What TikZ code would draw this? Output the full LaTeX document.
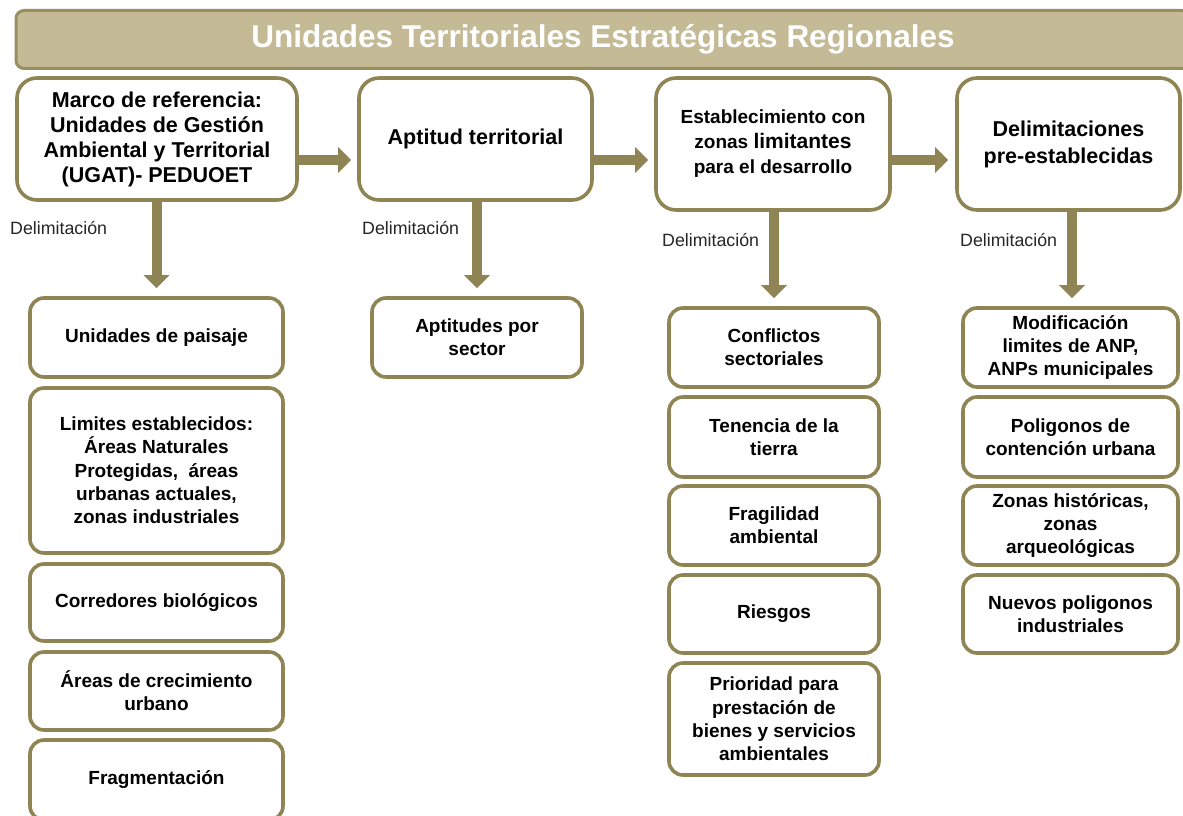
\documentclass[tikz,border=0pt]{standalone}
\usepackage{fontspec}
\setmainfont{Liberation Sans}
\usetikzlibrary{arrows.meta}
\definecolor{olv}{HTML}{8F8453}
\definecolor{ttlfill}{HTML}{C4BB96}
\definecolor{ttlline}{HTML}{998E5D}
\tikzset{
  box/.style={draw=olv, line width=3.6pt, rounded corners=14pt, fill=white, align=center, inner sep=0pt,
    font=\bfseries\fontsize{19}{23.3}\selectfont},
  topbox/.style={box, rounded corners=20pt, font=\bfseries\fontsize{21.5}{25}\selectfont},
  colA/.style={box, minimum width=253pt},
  colB/.style={box, minimum width=210pt},
  colC/.style={box, minimum width=210pt},
  colD/.style={box, minimum width=215pt},
  bigarrow/.style={draw=olv, line width=10pt, -{Triangle[width=25pt,length=13pt]}},
  delim/.style={anchor=west, inner sep=0pt, font=\fontsize{17.8}{20}\selectfont, text=black!85},
}
\begin{document}
\begin{tikzpicture}[x=1pt,y=-1pt]
\useasboundingbox (0,0) rectangle (1183,816);
\clip (0,0) rectangle (1183,816);
% title
\node[draw=ttlline, line width=3pt, fill=ttlfill, rounded corners=8pt, minimum width=1174pt, minimum height=58pt, inner sep=0pt,
  text=white, font=\bfseries\fontsize{31.5}{34}\selectfont] (title) at (603,39.5) {Unidades Territoriales Estratégicas Regionales};
% top row
\node[topbox, minimum width=280pt, minimum height=122pt] (A) at (157,139)
  {Marco de referencia:\\ Unidades de Gestión\\ Ambiental y Territorial\\ (UGAT)- PEDUOET};
\node[topbox, minimum width=233pt, minimum height=122pt] (B) at (475.5,139) {Aptitud territorial};
\node[topbox, minimum width=234pt, minimum height=132pt, font=\bfseries\fontsize{19}{25}\selectfont] (C) at (773,144)
  {Establecimiento con\\ zonas {\fontsize{21}{25}\selectfont limitantes}\\ para el desarrollo};
\node[topbox, minimum width=223pt, minimum height=132pt, font=\bfseries\fontsize{21.5}{27}\selectfont] (D) at (1068.5,144)
  {Delimitaciones\\ pre-establecidas};
% column A
\node[colA, minimum height=79pt] (a1) at (156.5,337.5) {Unidades de paisaje};
\node[colA, minimum height=165pt] (a2) at (156.5,470.5) {Limites establecidos:\\ Áreas Naturales\\ Protegidas,\ \ áreas\\ urbanas actuales,\\ zonas industriales};
\node[colA, minimum height=77pt] (a3) at (156.5,602.5) {Corredores biológicos};
\node[colA, minimum height=78pt] (a4) at (156.5,691) {Áreas de crecimiento\\ urbano};
\node[colA, minimum height=80pt] (a5) at (156.5,780) {Fragmentación};
% column B
\node[colB, minimum height=79pt] (b1) at (477,337.5) {Aptitudes por\\ sector};
% column C
\node[colC, minimum height=79pt] (c1) at (774,347.5) {Conflictos\\ sectoriales};
\node[colC, minimum height=80pt] (c2) at (774,437) {Tenencia de la\\ tierra};
\node[colC, minimum height=79pt] (c3) at (774,525.5) {Fragilidad\\ ambiental};
\node[colC, minimum height=78pt] (c4) at (774,614) {Riesgos};
\node[colC, minimum height=112pt] (c5) at (774,719) {Prioridad para\\ prestación de\\ bienes y servicios\\ ambientales};
% column D
\node[colD, minimum height=79pt] (d1) at (1070.5,347.5) {Modificación\\ limites de ANP,\\ ANPs municipales};
\node[colD, minimum height=80pt] (d2) at (1070.5,437) {Poligonos de\\ contención urbana};
\node[colD, minimum height=79pt] (d3) at (1070.5,525.5) {Zonas históricas,\\ zonas\\ arqueológicas};
\node[colD, minimum height=78pt] (d4) at (1070.5,614) {Nuevos poligonos\\ industriales};
% horizontal arrows
\coordinate (hy) at (0,160);
\draw[bigarrow, shorten >=6pt] (A.east |- hy) -- (B.west |- hy);
\draw[bigarrow, shorten >=6pt] (B.east |- hy) -- (C.west |- hy);
\draw[bigarrow, shorten >=7pt] (C.east |- hy) -- (D.west |- hy);
% vertical arrows
\draw[bigarrow, shorten >=8pt] (a1.north |- A.south) -- (a1.north);
\draw[bigarrow, shorten >=8pt] (b1.north |- B.south) -- (b1.north);
\draw[bigarrow, shorten >=8pt] (c1.north |- C.south) -- (c1.north);
\draw[bigarrow, shorten >=8pt] ([xshift=1.5pt]d1.north |- D.south) -- ([xshift=1.5pt]d1.north);
% labels
\node[delim] (l1) at (10,228) {Delimitación};
\node[delim] (l2) at (362,228) {Delimitación};
\node[delim] (l3) at (662,240) {Delimitación};
\node[delim] (l4) at (960,240) {Delimitación};
\end{tikzpicture}
\end{document}
